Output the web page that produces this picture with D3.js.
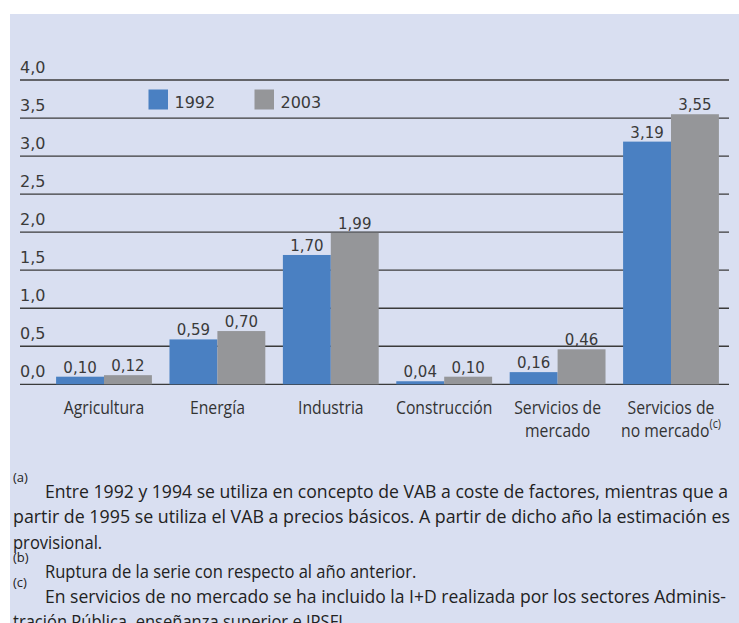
<!DOCTYPE html>
<html>
  <head>
    <script src="https://d3js.org/d3.v7.min.js"></script>
    <style>
      body { margin: 0; background: #fff; }
    </style>
  </head>

  <body>
    <svg id="chart" width="739" height="623"></svg>

  <script>
  // chart data
  var categories = ["Agricultura", "Energía", "Industria", "Construcción", "Servicios de mercado", "Servicios de no mercado"];
  var categoryLines = [["Agricultura"], ["Energía"], ["Industria"], ["Construcción"], ["Servicios de", "mercado"], ["Servicios de", "no mercado"]];
  var categoryMarks = ["", "", "", "", "", "(c)"];
  var series = ["1992", "2003"];
  var values1992 = [0.10, 0.59, 1.70, 0.04, 0.16, 3.19];
  var values2003 = [0.12, 0.70, 1.99, 0.10, 0.46, 3.55];
  var yTicks = [0, 0.5, 1, 1.5, 2, 2.5, 3, 3.5, 4];

  var notes = [
    {mark: "(a)", lines: ["Entre 1992 y 1994 se utiliza en concepto de VAB a coste de factores, mientras que a",
                          "partir de 1995 se utiliza el VAB a precios básicos. A partir de dicho año la estimación es",
                          "provisional."]},
    {mark: "(b)", lines: ["Ruptura de la serie con respecto al año anterior."]},
    {mark: "(c)", lines: ["En servicios de no mercado se ha incluido la I+D realizada por los sectores Adminis-",
                          "tración Pública, enseñanza superior e IPSFL."]}
  ];

  var colors = ["#4a80c2", "#959699"];
  var numFont = "DejaVu Sans, sans-serif";
  var textFont = "'Open Sans', sans-serif";
  var comma = function(v, n) { return v.toFixed(n).replace(".", ","); };

  var svg = d3.select("#chart");

  // lavender panel
  svg.append("rect")
    .attr("x", 10).attr("y", 14)
    .attr("width", 729).attr("height", 609)
    .attr("fill", "#d9dff1");

  // scales
  var x = d3.scaleBand()
    .domain(categories)
    .range([47.3, 727.7])
    .paddingInner(0.155)
    .paddingOuter(0.0775);
  var xSub = d3.scaleBand()
    .domain(series)
    .range([0, x.bandwidth()]);
  var y = d3.scaleLinear()
    .domain([0, 4])
    .range([384.3, 80]);

  // gridlines + tick labels
  var grid = svg.append("g");
  grid.selectAll("line")
    .data(yTicks)
    .enter().append("line")
      .attr("x1", 20).attr("x2", 729)
      .attr("y1", function(d) { return y(d); })
      .attr("y2", function(d) { return y(d); })
      .attr("stroke", "#3b3b3b")
      .attr("stroke-width", 1.3);
  grid.selectAll("text")
    .data(yTicks)
    .enter().append("text")
      .attr("x", 20)
      .attr("y", function(d) { return y(d) - 7; })
      .attr("font-family", numFont)
      .attr("font-size", 16)
      .attr("fill", "#3a3a3a")
      .text(function(d) { return comma(d, 1); });

  // bars
  var rows = categories.map(function(c, i) {
    return {cat: c, vals: [{s: series[0], v: values1992[i]}, {s: series[1], v: values2003[i]}]};
  });

  var groups = svg.append("g")
    .selectAll("g")
    .data(rows)
    .enter().append("g")
      .attr("transform", function(d) { return "translate(" + x(d.cat) + ",0)"; });

  groups.selectAll("rect")
    .data(function(d) { return d.vals; })
    .enter().append("rect")
      .attr("x", function(d) { return xSub(d.s); })
      .attr("width", xSub.bandwidth())
      .attr("y", function(d) { return y(d.v); })
      .attr("height", function(d) { return y(0) - y(d.v); })
      .attr("fill", function(d, i) { return colors[i]; });

  groups.selectAll("text")
    .data(function(d) { return d.vals; })
    .enter().append("text")
      .attr("x", function(d) { return xSub(d.s) + xSub.bandwidth() / 2; })
      .attr("y", function(d) { return y(d.v) - 4; })
      .attr("text-anchor", "middle")
      .attr("font-family", numFont)
      .attr("font-size", 15)
      .attr("fill", "#3a3a3a")
      .text(function(d) { return comma(d.v, 2); });

  // category labels (narrowed Open Sans), one <text> per line so each centres on its own
  var catG = svg.append("g")
    .attr("font-family", textFont)
    .attr("font-size", 19)
    .attr("fill", "#333");
  categories.forEach(function(c, i) {
    categoryLines[i].forEach(function(line, k) {
      var t = catG.append("text")
        .attr("transform", "translate(" + (x(c) + x.bandwidth() / 2) + "," + (414 + k * 23) + ") scale(0.83,1)")
        .attr("text-anchor", "middle");
      t.append("tspan").text(line);
      // superscript goes on the last line of the label
      if (categoryMarks[i] && k === categoryLines[i].length - 1) {
        t.append("tspan")
          .attr("font-size", 13)
          .attr("dy", -9)
          .text(categoryMarks[i]);
      }
    });
  });

  // legend
  var legend = svg.append("g")
    .selectAll("g")
    .data(series)
    .enter().append("g")
      .attr("transform", function(d, i) { return "translate(" + (148.5 + i * 106) + ",89.5)"; });
  legend.append("rect")
    .attr("width", 19.5).attr("height", 20)
    .attr("fill", function(d, i) { return colors[i]; });
  legend.append("text")
    .attr("x", 26).attr("y", 18.5)
    .attr("font-family", numFont)
    .attr("font-size", 16)
    .attr("fill", "#3a3a3a")
    .text(function(d) { return d; });

  // footnotes
  var noteG = svg.append("g")
    .attr("font-family", textFont)
    .attr("font-size", 18)
    .attr("fill", "#222");
  var noteY = [498, 578, 603];
  var lineH = 25.5;
  var justify = {"0-0": 683, "0-1": 717, "2-0": 681};
  notes.forEach(function(n, i) {
    noteG.append("text")
      .attr("x", 13)
      .attr("y", noteY[i] - 16)
      .attr("font-size", 13)
      .text(n.mark);
    n.lines.forEach(function(line, k) {
      var x0 = k === 0 ? 45 : 13;
      var t = noteG.append("text")
        .attr("x", x0)
        .attr("y", noteY[i] + k * lineH)
        .attr("transform", "translate(" + x0 + ",0) scale(0.92,1) translate(" + (-x0) + ",0)")
        .text(line);
      var w = justify[i + "-" + k];
      if (w) t.attr("textLength", w / 0.92).attr("lengthAdjust", "spacingAndGlyphs");
    });
  });
  </script>
  </body>
</html>
